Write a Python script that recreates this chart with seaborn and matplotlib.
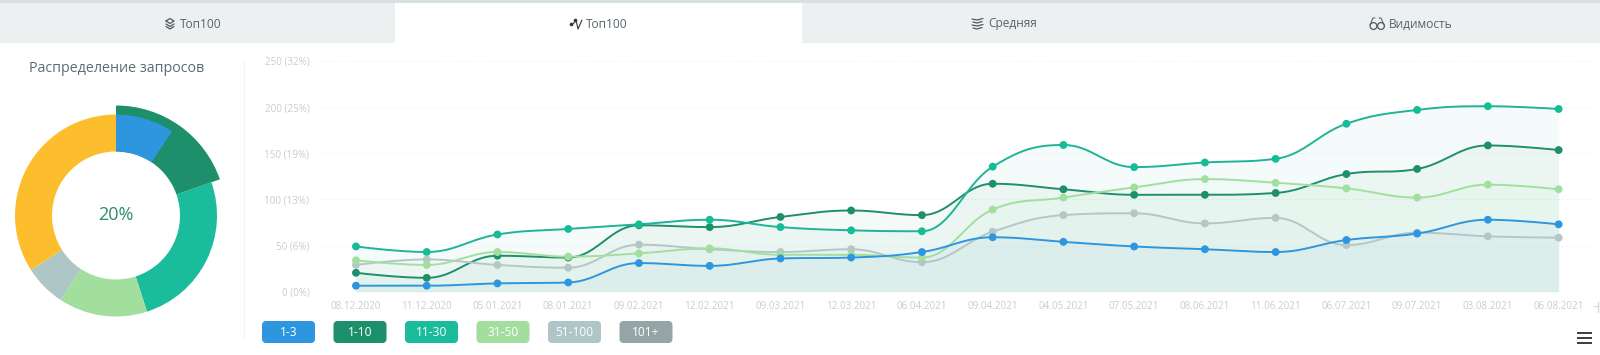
import numpy as np
import pandas as pd
import matplotlib
matplotlib.use("Agg")
import matplotlib.pyplot as plt
from matplotlib.patches import Rectangle, FancyBboxPatch
import seaborn as sns

dates = ["08.12.2020", "11.12.2020", "05.01.2021", "08.01.2021", "09.02.2021", "12.02.2021",
         "09.03.2021", "12.03.2021", "06.04.2021", "09.04.2021", "04.05.2021", "07.05.2021",
         "08.06.2021", "11.06.2021", "06.07.2021", "09.07.2021", "03.08.2021", "06.08.2021"]
top3 = [6.5, 6.5, 9, 10, 31, 28, 36, 37, 43, 59, 54, 49, 46, 43, 56, 63, 78, 73]
top10 = [20.5, 15, 39, 37, 72, 70, 81, 88, 83, 117, 111, 105, 105, 107, 127.5, 133, 158.5, 153.5]
top30 = [49, 43, 62, 68, 73, 78, 70, 66.5, 65.5, 135.5, 159, 135, 140, 144, 182, 197, 201, 198]
top50 = [34, 29, 43, 38, 41.5, 47, 40, 40, 37, 89, 102, 113, 122, 118, 112, 102, 116, 111]
top100 = [29, 35, 29, 26, 51, 46, 43, 46, 32, 65, 83, 85, 74, 80, 50.5, 64, 60, 58.5]
y_ticks = [0, 50, 100, 150, 200, 250]
y_labels = ["0 (0%)", "50 (6%)", "100 (13%)", "150 (19%)", "200 (25%)", "250 (32%)"]

tab_labels = ["Топ100", "Топ100", "Средняя", "Видимость"]
legend_labels = ["1-3", "1-10", "11-30", "31-50", "51-100", "101+"]
legend_colors = ["#2d96de", "#1e8f6b", "#1abc9c", "#a2df9f", "#aec6c6", "#95a5a6"]
line_colors = {"1-3": "#2d96de", "1-10": "#1e8f6b", "11-30": "#1fb497", "31-50": "#a2df9f", "51-100": "#b4c6c6"}
dot_colors = {"1-3": "#2d96de", "1-10": "#1e8f6b", "11-30": "#14bc98", "31-50": "#a2df9f", "51-100": "#b4c6c6"}
series = {"1-10": top10, "11-30": top30, "51-100": top100, "31-50": top50, "1-3": top3}

# donut shares (last date), 1-10 includes 1-3
donut_values = [153.5, 198, 111, 52, 266]
donut_colors = ["#1e8f6b", "#1abc9c", "#a2df9f", "#aec6c6", "#fdbe2d"]
donut_top3 = 73
donut_total = 780.5

W, H = 1600, 355


def spline(ys, steps=24):
    # same smoothing as the web chart spline: bezier between points
    xs = np.arange(len(ys), dtype=float)
    ys = np.array(ys, dtype=float)
    s = 1.5
    ctrl = []
    for i in range(len(ys)):
        if i == 0 or i == len(ys) - 1:
            ctrl.append((xs[i], ys[i], xs[i], ys[i]))
            continue
        lx = (s * xs[i] + xs[i - 1]) / (s + 1)
        ly = (s * ys[i] + ys[i - 1]) / (s + 1)
        rx = (s * xs[i] + xs[i + 1]) / (s + 1)
        ry = (s * ys[i] + ys[i + 1]) / (s + 1)
        corr = (ry - ly) * (rx - xs[i]) / (rx - lx) + ys[i] - ry
        ly += corr
        ry += corr
        if (ly > ys[i] and ly > ys[i - 1]) or (ly < ys[i] and ly < ys[i - 1]):
            ly = max(ys[i], ys[i - 1]) if ly > ys[i] else min(ys[i], ys[i - 1])
            ry = 2 * ys[i] - ly
        elif (ry > ys[i] and ry > ys[i + 1]) or (ry < ys[i] and ry < ys[i + 1]):
            ry = max(ys[i], ys[i + 1]) if ry > ys[i] else min(ys[i], ys[i + 1])
            ly = 2 * ys[i] - ry
        ctrl.append((lx, ly, rx, ry))
    out_x, out_y = [], []
    t = np.linspace(0, 1, steps)
    for i in range(len(ys) - 1):
        x0, y0, x3, y3 = xs[i], ys[i], xs[i + 1], ys[i + 1]
        x1, y1 = ctrl[i][2], ctrl[i][3]
        x2, y2 = ctrl[i + 1][0], ctrl[i + 1][1]
        out_x += list((1 - t) ** 3 * x0 + 3 * (1 - t) ** 2 * t * x1 + 3 * (1 - t) * t ** 2 * x2 + t ** 3 * x3)
        out_y += list((1 - t) ** 3 * y0 + 3 * (1 - t) ** 2 * t * y1 + 3 * (1 - t) * t ** 2 * y2 + t ** 3 * y3)
    return np.array(out_x), np.array(out_y)


sns.set_theme(style="white")
plt.rcParams["font.family"] = ["Open Sans", "DejaVu Sans"]

fig = plt.figure(figsize=(16, 3.55), dpi=100, facecolor="white")

# page furniture in pixel coordinates
bg = fig.add_axes([0, 0, 1, 1])
bg.set_xlim(0, W)
bg.set_ylim(H, 0)
bg.axis("off")
bg.add_patch(Rectangle((0, 0), W, 3, color="#d6dfe2", lw=0))
bg.add_patch(Rectangle((0, 3), 395, 40, color="#ecf0f1", lw=0))
bg.add_patch(Rectangle((802, 3), 798, 40, color="#ecf0f1", lw=0))
tab_x = [200.5, 606.5, 1012.5, 1420.5]
for x, label in zip(tab_x, tab_labels):
    bg.text(x, 24, label, ha="center", va="center", fontsize=8.6, color="#55636b")

# tab icons
ic = "#4c5a62"
bg.plot([166, 170, 174, 170, 166], [21, 18.5, 21, 23.5, 21], color=ic, lw=0.9)
bg.plot([166, 170, 174], [24, 26.5, 24], color=ic, lw=0.9)
bg.plot([166, 170, 174], [26.5, 29, 26.5], color=ic, lw=0.9)
bg.plot([573, 576, 578, 582], [24, 20, 29, 20], color="#30383d", lw=0.8)
bg.plot([571, 575], [24, 20], "o", color="#30383d", ms=1.6)
for y, dx in zip([19, 22, 25, 28], [0, 1, 0, 1]):
    bg.plot([972 + dx, 977, 983 - dx], [y, y + 1, y - 0.5], color=ic, lw=0.9)
for cx in [1373.5, 1381]:
    bg.add_patch(plt.Circle((cx, 26), 3.4, fill=False, ec=ic, lw=0.9))
bg.plot([1370, 1373, 1375], [25, 18, 18], color=ic, lw=0.7)
bg.plot([1384, 1381, 1379], [25, 18, 18], color=ic, lw=0.7)

bg.text(117, 68, "Распределение запросов", ha="center", va="center", fontsize=10.3, color="#5d6b73")
bg.plot([244, 244], [60, 340], color="#f3f4f5", lw=0.8)

# legend buttons
for i, (label, c) in enumerate(zip(legend_labels, legend_colors)):
    x0 = 262 + i * 71.5
    bg.add_patch(FancyBboxPatch((x0 + 2, 323), 49, 18, boxstyle="round,pad=0,rounding_size=2",
                                mutation_aspect=1, fc=c, ec=c, lw=4 * 0.72))
    bg.text(x0 + 26.5, 332.5, label, ha="center", va="center", fontsize=8.6, color="white")

# hamburger and the small mark at the right of the axis
for y in [333, 338, 343]:
    bg.plot([1577, 1592], [y, y], color="#3c3c3c", lw=1.4, solid_capstyle="butt")
bg.plot([1594, 1600], [306, 306], color="#d8dadb", lw=1)
bg.plot([1598, 1598], [302, 312], color="#d8dadb", lw=1)

# donut
cx, cy, box = 116, 215.5, 118
donut = fig.add_axes([(cx - box) / W, 1 - (cy + box) / H, 2 * box / W, 2 * box / H])
wedges, _ = donut.pie(donut_values, colors=donut_colors, startangle=90, counterclock=False,
                      radius=101, wedgeprops={"width": 37, "linewidth": 0})
wedges[0].set_radius(110)
wedges[0].set_width(46)
wedges[0].set_zorder(3)
inner, _ = donut.pie([donut_top3, donut_total - donut_top3], colors=["#2d96de", "none"], startangle=90,
                     counterclock=False, radius=101, wedgeprops={"width": 37, "linewidth": 0})
inner[0].set_zorder(4)
donut.set_xlim(-box, box)
donut.set_ylim(-box, box)
donut.text(0, 0, "20%", ha="center", va="center", fontsize=13, color="#2e8b6b")

# main chart
left, right, top, bottom = 320.6, 1594, 61, 291.7
ax = fig.add_axes([left / W, 1 - bottom / H, (right - left) / W, (bottom - top) / H])
ax.patch.set_alpha(0)

rows = []
dots = []
for name, vals in series.items():
    sx, sy = spline(vals)
    ax.fill_between(sx, 0, sy, color=line_colors[name], alpha=0.045, lw=0)
    rows.append(pd.DataFrame({"x": sx, "y": sy, "range": name}))
    dots.append(pd.DataFrame({"x": np.arange(len(vals)), "y": vals, "range": name}))
lines_df = pd.concat(rows, ignore_index=True)
dots_df = pd.concat(dots, ignore_index=True)

sns.lineplot(data=lines_df, x="x", y="y", hue="range", palette=line_colors, sort=False,
             estimator=None, lw=1.4, legend=False, ax=ax, clip_on=False)
sns.scatterplot(data=dots_df, x="x", y="y", hue="range", palette=dot_colors, s=32, linewidth=0,
                legend=False, ax=ax, clip_on=False, zorder=5)

ax.set_xlim(-0.5, len(dates) - 0.5)
ax.set_ylim(0, 250)
ax.set_xticks(range(len(dates)))
ax.set_xticklabels(dates, fontsize=7.1, color="#c9cdd0")
ax.set_yticks(y_ticks)
ax.set_yticklabels(y_labels, fontsize=7.1, color="#c9cdd0")
ax.tick_params(axis="both", length=0)
ax.tick_params(axis="x", pad=6.5)
ax.tick_params(axis="y", pad=8)
ax.set_xlabel("")
ax.set_ylabel("")
ax.grid(axis="y", color="#eceeef", lw=0.7, ls=(0, (1.5, 2.5)))
ax.set_axisbelow(True)
sns.despine(ax=ax, left=True, top=True, right=True, bottom=True)
ax.axhline(0, color="#eef0f1", lw=0.7, zorder=0)

fig.savefig("out.png", dpi=100)
